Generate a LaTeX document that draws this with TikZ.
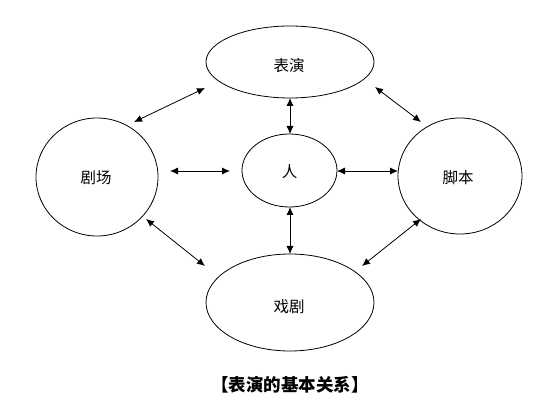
\documentclass[tikz,border=0pt]{standalone}
\usepackage{fontspec}
\setmainfont{Noto Sans CJK SC}
\usetikzlibrary{arrows.meta}
\begin{document}
\begin{tikzpicture}[x=1pt,y=-1pt,
  lbl/.style={font=\fontsize{15.5}{17}\selectfont},
  link/.style={line width=0.8pt,{Latex[length=8pt,width=7pt]}-{Latex[length=8pt,width=7pt]}}]
\useasboundingbox (0,0) rectangle (555,409);
% ellipses
\draw[line width=0.8pt] (290,62) ellipse [x radius=84, y radius=36];
\draw[line width=0.8pt] (289.5,170.5) ellipse [x radius=47.5, y radius=36.5];
\draw[line width=0.8pt] (97,177) ellipse [x radius=61, y radius=59];
\draw[line width=0.8pt] (460,176) ellipse [x radius=62, y radius=58];
\draw[line width=0.8pt] (290,302.5) ellipse [x radius=84, y radius=48.5];
% labels
\node[lbl] (biaoyan) at (289,66) {表演};
\node[lbl] (ren) at (289.5,172) {人};
\node[lbl] (juchang) at (96,178) {剧场};
\node[lbl] (jiaoben) at (458,178) {脚本};
\node[lbl] (xiju) at (289,307) {戏剧};
\node[font=\fontsize{17.5}{19}\selectfont\bfseries] (cap) at (290,385) {【表演的基本关系】};
% arrow end points
\coordinate (a1) at (205,88);   \coordinate (a2) at (134,122);
\coordinate (b1) at (290,98);   \coordinate (b2) at (290,134);
\coordinate (c1) at (375,87);   \coordinate (c2) at (421,122);
\coordinate (d1) at (170,171);  \coordinate (d2) at (230,171);
\coordinate (e1) at (337,171);  \coordinate (e2) at (398,171);
\coordinate (f1) at (290,207);  \coordinate (f2) at (290,254);
\coordinate (g1) at (146,219);  \coordinate (g2) at (205,266);
\coordinate (h1) at (421,219);  \coordinate (h2) at (362,266);
\draw[link] (a1) -- (a2);
\draw[link] (b1) -- (b2);
\draw[link] (c1) -- (c2);
\draw[link] (d1) -- (d2);
\draw[link] (e1) -- (e2);
\draw[link] (f1) -- (f2);
\draw[link] (g1) -- (g2);
\draw[link] (h1) -- (h2);
\end{tikzpicture}
\end{document}
